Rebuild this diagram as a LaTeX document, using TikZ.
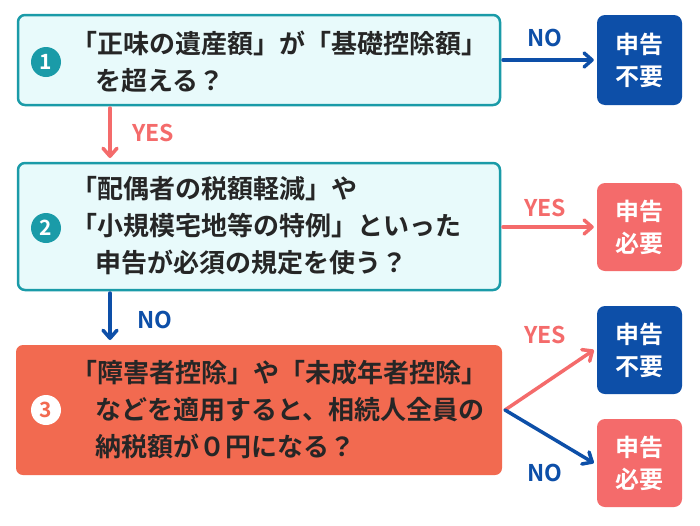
\documentclass[tikz,border=0pt]{standalone}
\usepackage{fontspec}
\setmainfont{Noto Sans CJK JP}[BoldFont={Noto Sans CJK JP Bold}]
\usetikzlibrary{arrows.meta}
\definecolor{teal}{HTML}{1A9BA8}
\definecolor{lcyan}{HTML}{E8FAFB}
\definecolor{coral}{HTML}{F26A50}
\definecolor{dblue}{HTML}{0D4FA8}
\definecolor{lred}{HTML}{F46B6B}
\newcommand{\ind}{\mbox{}\hspace{24pt}}
\begin{document}
\begin{tikzpicture}[x=1pt,y=-1pt,
  qbox/.style={draw=teal,line width=2.5pt,fill=lcyan,rounded corners=7pt},
  rbox/.style={rounded corners=8pt,text=white,font=\bfseries\fontsize{24}{32}\selectfont,align=center,minimum width=85pt,inner sep=0pt},
  num/.style={circle,minimum size=30pt,inner sep=0pt,font=\bfseries\fontsize{21}{22}\selectfont},
  txt/.style={font=\bfseries\fontsize{26}{37}\selectfont,text=black!85,align=left,anchor=west,inner sep=0pt},
  arr/.style={line width=3.5pt,line cap=round,-{Straight Barb[length=8pt,width=14pt,line cap=round,line join=round]}},
  lab/.style={font=\bfseries\fontsize{23}{23}\selectfont}]
\useasboundingbox (0,0) rectangle (700,525);
\fill[white] (0,0) rectangle (700,525);
% question boxes
\draw[qbox] (18,15) rectangle (500,105);
\node[num,fill=teal,text=white] (n1) at (46,62) {1};
\node[txt] (t1) at (71,62) {「正味の遺産額」が「基礎控除額」\\\ind を超える？};
\draw[qbox] (18,163) rectangle (500,290);
\node[num,fill=teal,text=white] (n2) at (46,228) {2};
\node[txt] (t2) at (71,226) {「配偶者の税額軽減」や\\「小規模宅地等の特例」といった\\\ind 申告が必須の規定を使う？};
\fill[coral,rounded corners=7pt] (16,345) rectangle (502,475);
\node[num,fill=white,text=coral] (n3) at (46,410) {3};
\node[txt] (t3) at (71,410) {「障害者控除」や「未成年者控除」\\\ind などを適用すると、相続人全員の\\\ind 納税額が０円になる？};
% result boxes
\node[rbox,fill=dblue,minimum height=90pt] (r1) at (639.5,60) {申告\\不要};
\node[rbox,fill=lred,minimum height=88pt] (r2) at (639.5,227) {申告\\必要};
\node[rbox,fill=dblue,minimum height=88pt] (r3) at (639.5,350) {申告\\不要};
\node[rbox,fill=lred,minimum height=88pt] (r4) at (639.5,463) {申告\\必要};
% connectors
\coordinate (a1) at (503,60);
\coordinate (b1) at (110,108);
\coordinate (b1e) at (110,158);
\coordinate (a2) at (503,227);
\coordinate (b2) at (110,293);
\coordinate (b2e) at (110,340);
\coordinate (a3) at (505,410);
\draw[arr,dblue] (a1) -- ([xshift=-3pt]r1.west);
\node[lab,text=dblue] at (545,38) {NO};
\draw[arr,lred] (b1) -- (b1e);
\node[lab,text=lred] at (153,133) {YES};
\draw[arr,lred] (a2) -- ([xshift=-3pt]r2.west);
\node[lab,text=lred] at (545,208) {YES};
\draw[arr,dblue] (b2) -- (b2e);
\node[lab,text=dblue] at (155,320) {NO};
\draw[arr,lred] (a3) -- ([xshift=-3pt]r3.west);
\node[lab,text=lred] at (545,335) {YES};
\draw[arr,dblue] (a3) -- ([xshift=-3pt]r4.west);
\node[lab,text=dblue] at (545,473) {NO};
\end{tikzpicture}
\end{document}
